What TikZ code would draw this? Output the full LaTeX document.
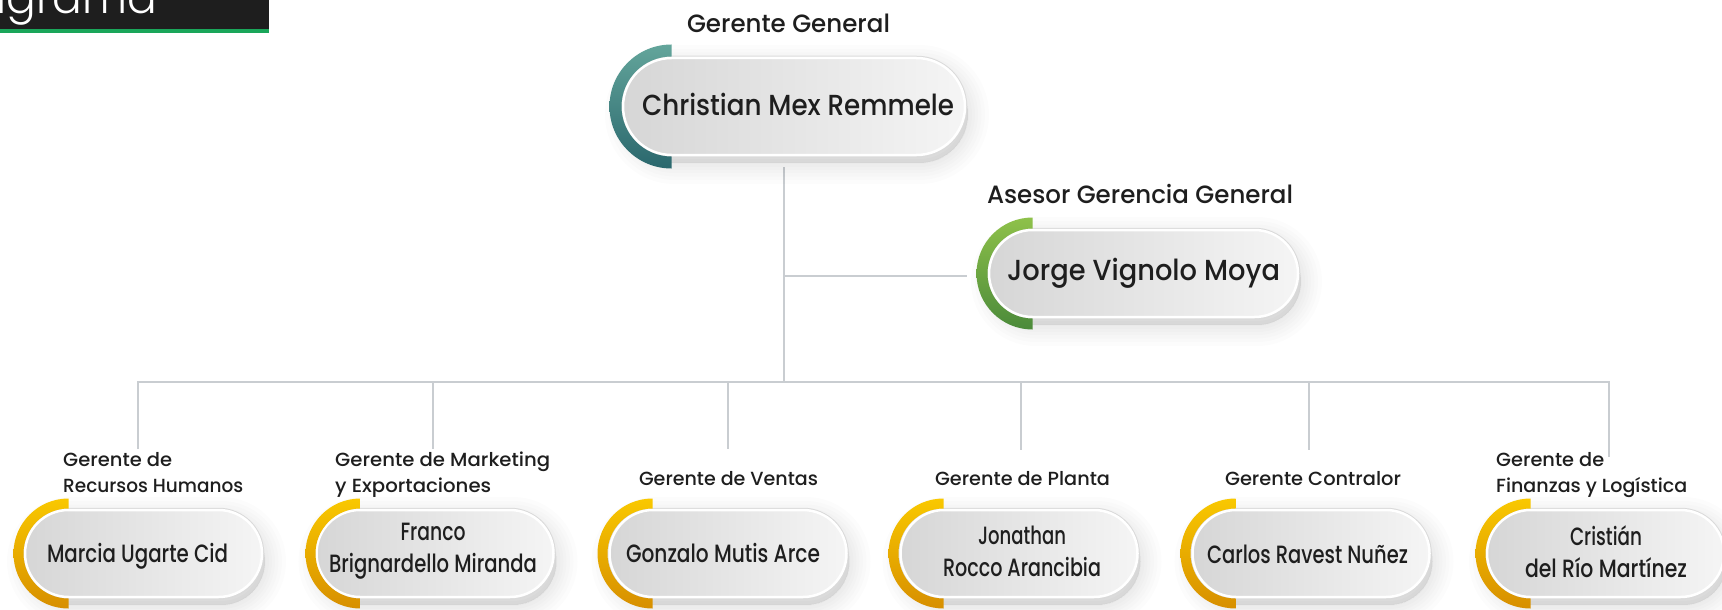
\documentclass[tikz,border=0pt]{standalone}
\usepackage{fontspec}
\usepackage{graphicx}
\IfFontExistsTF{Poppins Medium}{\setmainfont{Poppins Medium}}{\setmainfont{Poppins}}
\IfFontExistsTF{Poppins Light}{\newfontfamily\thinfont{Poppins Light}}{\newfontfamily\thinfont{Poppins}}
\usetikzlibrary{shapes.misc,shadows}
\newcommand\fitw[2]{\resizebox{#1pt}{\height}{#2}}
\newcommand\ringarc[5]{\shade[#5] (#1,#2-#3) arc[start angle=90,end angle=270,radius=#3pt] -- (#1,#2+#4) arc[start angle=270,end angle=90,radius=#4pt] -- cycle;}
\definecolor{pillL}{HTML}{D6D6D6}
\definecolor{pillR}{HTML}{F5F5F5}
\definecolor{pillEdge}{HTML}{DADADA}
\definecolor{linkC}{HTML}{C9CDD1}
\definecolor{txt}{HTML}{1E1E1E}
\definecolor{hdr}{HTML}{1E1E1E}
\definecolor{hdrG}{HTML}{1AA65A}
\definecolor{tealT}{HTML}{63A59B}
\definecolor{tealB}{HTML}{2A676D}
\definecolor{greenT}{HTML}{8EC14A}
\definecolor{greenB}{HTML}{4B8A3A}
\definecolor{yelT}{HTML}{F9C800}
\definecolor{yelB}{HTML}{D78F00}
\tikzset{
  softshadow/.style={general shadow={fill=black, draw=black, opacity=0.012, line width=#1, shadow xshift=3pt, shadow yshift=-8pt}},
  pill/.style={rounded rectangle, inner sep=0pt, minimum height=87pt, minimum width=237pt,
    softshadow=2pt, softshadow=8pt, softshadow=14pt, softshadow=20pt, softshadow=27pt, softshadow=34pt, softshadow=42pt,
    preaction={draw=pillEdge, line width=4.5pt},
    left color=pillL, right color=pillR, draw=white, line width=2.5pt},
  link/.style={draw=linkC, line width=2.5pt},
  nameS/.style={text=txt, font=\fontsize{25}{32}\selectfont, align=center, inner sep=0pt, anchor=base},
  topname/.style={nameS, font=\fontsize{29}{35}\selectfont},
  labS/.style={text=txt, font=\fontsize{19}{26}\selectfont, align=left, inner sep=0pt, anchor=base west},
  labC/.style={labS, align=center, anchor=base},
  toplab/.style={labC, font=\fontsize{25}{30}\selectfont},
  ringT/.style={top color=tealT, bottom color=tealB},
  ringG/.style={top color=greenT, bottom color=greenB},
  ringY/.style={top color=yelT, bottom color=yelB}
}
\begin{document}
\begin{tikzpicture}[x=1pt,y=-1pt]
\useasboundingbox (0,0) rectangle (1722,610);
\fill[white] (0,0) rectangle (1722,610);
% header
\fill[hdr] (0,0) rectangle (269,29.5);
\fill[hdrG] (0,29.5) rectangle (269,33);
\begin{scope}
\clip (0,0) rectangle (269,29.5);
\node[anchor=base east, text=white, inner sep=0pt, font=\thinfont\fontsize{44}{44}\selectfont] (title) at (157,14) {Organigrama};
\end{scope}
% connectors
\coordinate (t0) at (784,167);
\coordinate (tj) at (784,276);
\coordinate (te) at (967,276);
\coordinate (t1) at (784,382);
\coordinate (b1) at (138,382);
\coordinate (b6) at (1609,382);
\coordinate (d1) at (138,449);
\coordinate (b2) at (433,382);
\coordinate (d2) at (433,449);
\coordinate (b3) at (728,382);
\coordinate (d3) at (728,449);
\coordinate (b4) at (1021,382);
\coordinate (d4) at (1021,450);
\coordinate (b5) at (1309,382);
\coordinate (d5) at (1309,450);
\coordinate (d6) at (1609,457);
\draw[link] (t0) -- (t1);
\draw[link] (tj) -- (te);
\draw[link] (d1) -- (b1) -- (b6) -- (d6);
\draw[link] (b2) -- (d2);
\draw[link] (b3) -- (d3);
\draw[link] (b4) -- (d4);
\draw[link] (b5) -- (d5);
% pills
\node[pill, minimum width=342pt, minimum height=97pt] (p0) at (794,106.5) {};
\node[pill, minimum width=309pt] (p7) at (1143.5,273.5) {};
\node[pill] (p1) at (143.5,553.5) {};
\node[pill] (p2) at (435,553.5) {};
\node[pill] (p3) at (728,553.5) {};
\node[pill] (p4) at (1019,553.5) {};
\node[pill] (p5) at (1311,553.5) {};
\node[pill] (p6) at (1605.5,553.5) {};
% rings
\ringarc{671.5}{106.5}{62}{50}{ringT}
\ringarc{1032.5}{273.5}{56}{45}{ringG}
\ringarc{68.5}{553.5}{55}{45}{ringY}
\ringarc{360.5}{553.5}{55}{45}{ringY}
\ringarc{652.5}{553.5}{55}{45}{ringY}
\ringarc{943.5}{553.5}{55}{45}{ringY}
\ringarc{1235.5}{553.5}{55}{45}{ringY}
\ringarc{1530.5}{553.5}{55}{45}{ringY}
% names
\node[topname] (n0) at (798,115) {\fitw{312}{Christian Mex Remmele}};
\node[topname] (n7) at (1143.5,280) {\fitw{273}{Jorge Vignolo Moya}};
\node[nameS] (n1) at (137.5,562.5) {\fitw{181}{Marcia Ugarte Cid}};
\node[nameS] (n2) at (433,572) {\fitw{65}{Franco}\\\fitw{208}{Brignardello Miranda}};
\node[nameS] (n3) at (723,562) {\fitw{194}{Gonzalo Mutis Arce}};
\node[nameS] (n4) at (1022,576) {\fitw{88}{Jonathan}\\\fitw{158}{Rocco Arancibia}};
\node[nameS] (n5) at (1307.5,563) {\fitw{201}{Carlos Ravest Nuñez}};
\node[nameS] (n6) at (1606,577) {\fitw{72}{Cristián}\\\fitw{162}{del Río Martínez}};
% labels
\node[toplab] (l0) at (788.5,33) {\fitw{203}{Gerente General}};
\node[toplab] (l7) at (1140,203) {\fitw{306}{Asesor Gerencia General}};
\node[labS] (l1) at (63,492) {\fitw{109}{Gerente de}\\\fitw{180}{Recursos Humanos}};
\node[labS] (l2) at (335,492) {\fitw{215}{Gerente de Marketing}\\\fitw{156}{y Exportaciones}};
\node[labC] (l3) at (728.5,485) {\fitw{179}{Gerente de Ventas}};
\node[labC] (l4) at (1022.5,485) {\fitw{175}{Gerente de Planta}};
\node[labC] (l5) at (1313,485) {\fitw{176}{Gerente Contralor}};
\node[labS] (l6) at (1496,492) {\fitw{108}{Gerente de}\\\fitw{191}{Finanzas y Logística}};
\end{tikzpicture}
\end{document}
